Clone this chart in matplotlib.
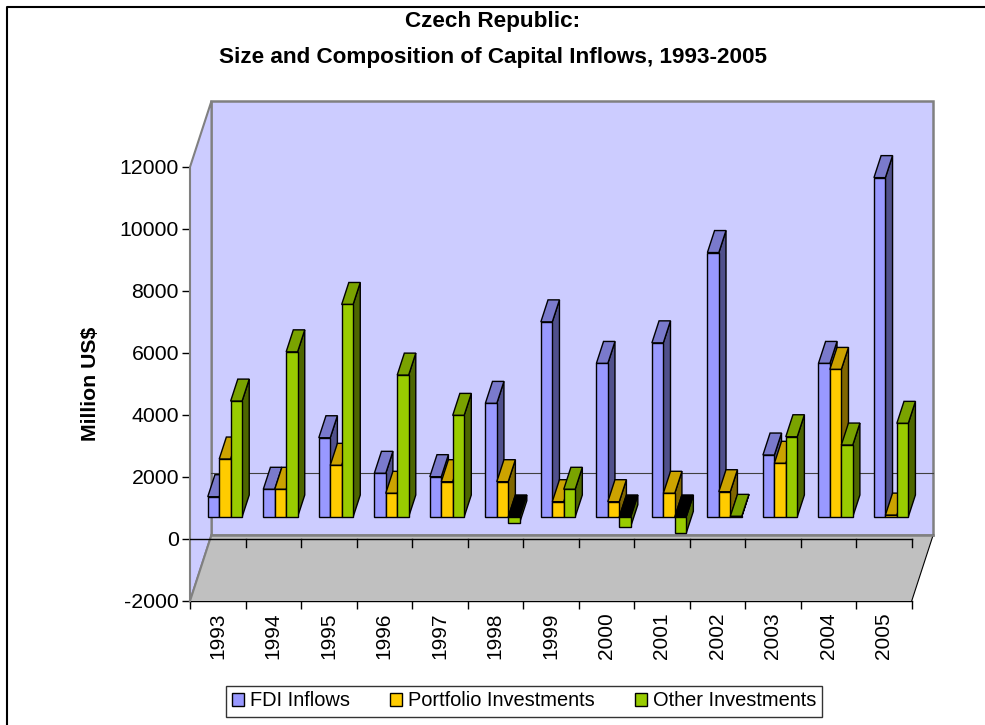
import matplotlib
matplotlib.use("Agg")
import matplotlib.pyplot as plt
from matplotlib.patches import Polygon, Patch
from matplotlib.lines import Line2D

plt.rcParams['font.family'] = ['Liberation Sans', 'DejaVu Sans']
plt.rcParams['axes.unicode_minus'] = False

# data (million US$)
years = ['1993', '1994', '1995', '1996', '1997', '1998', '1999',
         '2000', '2001', '2002', '2003', '2004', '2005']
fdi = [654, 893, 2556, 1408, 1300, 3664, 6294, 4953, 5617, 8530, 1998, 4953, 10947]
portfolio = [1869, 893, 1666, 764, 1138, 1138, 493, 493, 764, 815, 1731, 4760, 60]
other = [3738, 5327, 6855, 4576, 3277, -184, 893, -313, -525, 20, 2588, 2320, 3020]

series_names = ['FDI Inflows', 'Portfolio Investments', 'Other Investments']
series_vals = [fdi, portfolio, other]
# front, top, side shades
series_cols = [('#9999FF', '#7A7ACC', '#50508C'),
               ('#FFCC00', '#CCA300', '#806600'),
               ('#99CC00', '#7AA300', '#4D6600')]

yticks = [-2000, 0, 2000, 4000, 6000, 8000, 10000, 12000]
ymin, ymax = -2000, 12000

# oblique depth vector (full depth) in data units
DX, DY = 0.387, 2130
BW = 0.206
D0, D1 = 1 / 3, 2 / 3
TICK_V = 260

fig = plt.figure(figsize=(9.85, 7.25), dpi=100)
ax = fig.add_axes([190 / 985, 124 / 725, 721.7 / 985, 434 / 725])
n = len(years)
ax.set_xlim(0, n)
ax.set_ylim(ymin, ymax)
ax.set_facecolor('none')
for s in ['top', 'right']:
    ax.spines[s].set_visible(False)
ax.spines['left'].set_linewidth(1.0)
ax.spines['bottom'].set_linewidth(1.0)

z = [1]


def poly(pts, fc, ec='black', lw=1.0):
    z[0] += 1
    ax.add_patch(Polygon(pts, closed=True, facecolor=fc, edgecolor=ec,
                         lw=lw, clip_on=False, zorder=z[0]))


# walls and floor
poly([(DX, ymin + DY), (n + DX, ymin + DY), (n + DX, ymax + DY), (DX, ymax + DY)],
     '#CCCCFF', '#808080', 1.8)
poly([(0, ymin), (DX, ymin + DY), (DX, ymax + DY), (0, ymax)], '#CCCCFF', '#808080', 1.5)
poly([(0, ymin), (n, ymin), (n + DX, ymin + DY), (DX, ymin + DY)], '#C0C0C0', 'none', 0)
z[0] += 1
ax.plot([0, DX], [ymin, ymin + DY], color='#808080', lw=1.5, clip_on=False, zorder=z[0])
ax.plot([n, n + DX], [ymin, ymin + DY], color='black', lw=0.8, clip_on=False, zorder=z[0])
ax.plot([DX, n + DX], [ymin + DY, ymin + DY], color='#808080', lw=1.8, clip_on=False, zorder=z[0])
# zero line on the back wall
ax.plot([DX, n + DX], [DY, DY], color='#404040', lw=0.8, clip_on=False, zorder=z[0])
# category axis at zero (front)
ax.plot([0, n], [0, 0], color='black', lw=1.0, clip_on=False, zorder=z[0])
for i in range(1, n + 1):
    ax.plot([i, i], [0, -TICK_V], color='black', lw=1.0, clip_on=False, zorder=z[0])

# bars
ddx, ddy = (D1 - D0) * DX, (D1 - D0) * DY
yb = D0 * DY
for i in range(n):
    for j, vals in enumerate(series_vals):
        v = vals[i]
        front, top, side = series_cols[j]
        x0 = i + 0.5 - 1.5 * BW + j * BW + D0 * DX
        x1 = x0 + BW
        lo, hi = min(v, 0), max(v, 0)
        poly([(x1, yb + lo), (x1 + ddx, yb + lo + ddy), (x1 + ddx, yb + hi + ddy), (x1, yb + hi)], side)
        poly([(x0, yb + hi), (x1, yb + hi), (x1 + ddx, yb + hi + ddy), (x0 + ddx, yb + hi + ddy)],
             top if v >= 0 else 'black')
        poly([(x0, yb + lo), (x1, yb + lo), (x1, yb + hi), (x0, yb + hi)], front)

# axes ticks
ax.set_yticks(yticks)
ax.set_yticklabels([str(t) for t in yticks], fontsize=15.3)
ax.tick_params(axis='y', length=6, width=1.0, direction='out', pad=2)
ax.set_xticks(range(n + 1))
ax.set_xticklabels([])
ax.set_xticks([i + 0.5 for i in range(n)], minor=True)
ax.set_xticklabels(years, minor=True, rotation=90, fontsize=15)
ax.tick_params(axis='x', which='major', length=6, width=1.0, direction='out')
ax.tick_params(axis='x', which='minor', length=0, pad=8)
ax.set_ylabel('Million US$', fontsize=15.3, fontweight='bold', labelpad=14)

fig.text(493 / 985, 1 - 21 / 725, 'Czech Republic:', ha='center', va='center',
         fontsize=16.2, fontweight='bold')
fig.text(493 / 985, 1 - 57 / 725, 'Size and Composition of Capital Inflows, 1993-2005',
         ha='center', va='center', fontsize=16.2, fontweight='bold')

handles = [Patch(facecolor=c[0], edgecolor='black', lw=1.0) for c in series_cols]
leg = fig.legend(handles, series_names, loc='center', bbox_to_anchor=(524 / 985, 1 - 701 / 725),
                 ncol=3, fontsize=14.4, frameon=True, fancybox=False, edgecolor='black',
                 handlelength=0.6, handleheight=0.6, handletextpad=0.3, columnspacing=2.0,
                 borderpad=0.3)
leg.get_frame().set_linewidth(1.0)

# outer chart border (cut off at the right and bottom edges)
fig.add_artist(Line2D([7 / 985, 7 / 985, 1.0], [0.0, 1 - 7 / 725, 1 - 7 / 725],
                      color='black', lw=1.5))

fig.savefig('out.png', dpi=100)
